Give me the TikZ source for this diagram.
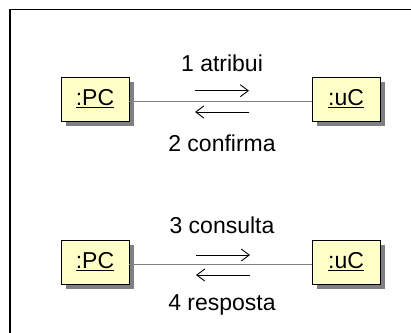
\documentclass[tikz,border=0pt]{standalone}
\usepackage{fontspec}
\setmainfont{Liberation Sans}
\usetikzlibrary{arrows.meta,shadows}
\definecolor{boxfill}{HTML}{FFFFC8}
\tikzset{
  obj/.style={draw=black, line width=0.9pt, fill=boxfill, minimum width=68pt, minimum height=44pt, inner sep=0pt,
    font=\fontsize{23}{27}\selectfont,
    drop shadow={shadow xshift=5pt, shadow yshift=-5pt, fill=black!50, opacity=1}},
  conn/.style={draw=black!50, line width=1.4pt},
  msg/.style={draw=black, line width=0.9pt, -{Straight Barb[length=8pt,width=12pt]}},
  lbl/.style={font=\fontsize{23}{27}\selectfont, inner sep=0pt}
}
\begin{document}
\begin{tikzpicture}[x=1pt,y=-1pt]
\useasboundingbox (0,0) rectangle (411,332);
\draw[line width=1.5pt] (10,333) -- (10,9.5) -- (412,9.5);
% row 1
\node[obj] (pc1) at (95,99) {\underline{:PC}};
\node[obj] (uc1) at (346,99) {\underline{:uC}};
\draw[conn] ([yshift=-2.5pt]pc1.east) -- ([yshift=-2.5pt]uc1.west);
\coordinate (r1a) at (195,90.7);
\coordinate (r1b) at (249,90.7);
\coordinate (l1a) at (249,112);
\coordinate (l1b) at (195,112);
\draw[msg] (r1a) -- (r1b);
\draw[msg] (l1a) -- (l1b);
\node[lbl] (t1) at (222,63) {1 atribui};
\node[lbl] (t2) at (222,143) {2 confirma};
% row 2
\node[obj] (pc2) at (95,262) {\underline{:PC}};
\node[obj] (uc2) at (346,262) {\underline{:uC}};
\draw[conn] ([yshift=-2.5pt]pc2.east) -- ([yshift=-2.5pt]uc2.west);
\coordinate (r2a) at (196,255);
\coordinate (r2b) at (250,255);
\coordinate (l2a) at (250,275);
\coordinate (l2b) at (196,275);
\draw[msg] (r2a) -- (r2b);
\draw[msg] (l2a) -- (l2b);
\node[lbl] (t3) at (222,225) {3 consulta};
\node[lbl] (t4) at (222,305) {4 resposta};
\end{tikzpicture}
\end{document}
